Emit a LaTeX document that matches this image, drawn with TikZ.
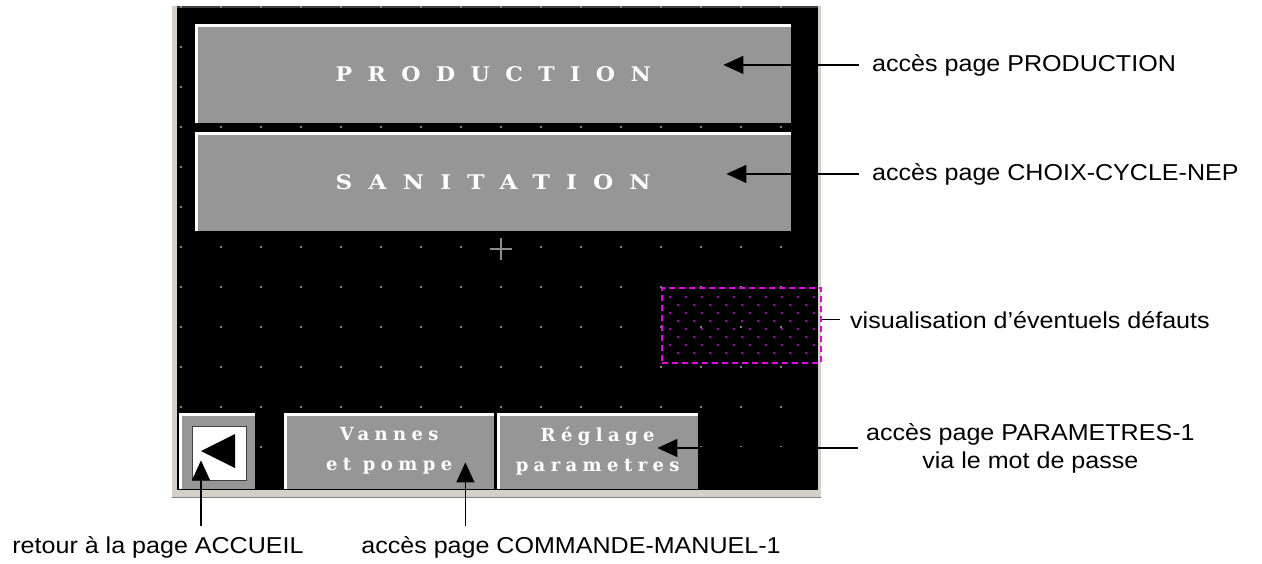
\documentclass[tikz,border=0pt]{standalone}
\usepackage{fontspec}
\usepackage{graphicx}
\setmainfont{Liberation Sans}
\newfontfamily\btnfont[LetterSpace=70]{DejaVu Serif}
\newfontfamily\smbtnfont[LetterSpace=30]{DejaVu Serif}
\usetikzlibrary{arrows.meta}
\definecolor{framegray}{RGB}{212,208,200}
\definecolor{topgray}{RGB}{64,64,64}
\definecolor{botgray}{RGB}{128,128,128}
\definecolor{dotgray}{RGB}{128,128,128}
\definecolor{plusgray}{RGB}{140,140,140}
\definecolor{btngray}{RGB}{150,150,150}
\definecolor{defmag}{RGB}{235,0,235}
\newcommand\labtxt[1]{\scalebox{1.09}[1]{#1}}
\newcommand\bigbtn[1]{\resizebox{315pt}{15pt}{\btnfont\bfseries #1}}
\begin{document}
\begin{tikzpicture}[x=1pt,y=-1pt,
  lbl/.style={font=\fontsize{23}{28}\selectfont, inner sep=0pt},
  arr/.style={-{Triangle[length=20pt,width=18pt]}, line width=1.3pt, black},
  plain/.style={line width=1.3pt, black},
  btn/.style={fill=btngray, inner sep=0pt, anchor=north west, text=white},
  smbtn/.style={btn, align=center, font=\smbtnfont\bfseries\fontsize{18}{30}\selectfont},
  griddot/.style={fill=dotgray}]
\useasboundingbox (0,0) rectangle (1262,563);
\fill[white] (0,0) rectangle (1262,563);
% screen frame
\fill[framegray] (172,6) rectangle (821,498);
\fill[black] (177,6) rectangle (818,490);
\draw[topgray, line width=1.5pt] (177,6.75) -- (818,6.75);
\draw[botgray, line width=1pt] (172,497.5) -- (821,497.5);
% grid dots
\foreach \i in {0,...,15}{
  \foreach \j in {0,...,11}{
    \fill[griddot] (180+40*\i,8+40*\j) rectangle ++(2,-2);
  }
}
% defects zone
\foreach \j in {0,2,4,6}{
  \foreach \i in {0,...,9}{
    \fill[defmag] (670+16*\i,297+8*\j) circle (1.1);
  }
}
\foreach \j in {1,3,5,7}{
  \foreach \i in {0,...,8}{
    \fill[defmag] (678+16*\i,297+8*\j) circle (1.1);
  }
}
\node[draw=defmag, dash pattern=on 6pt off 4pt, line width=2pt, inner sep=0pt, minimum width=159pt, minimum height=75pt, anchor=north west] (def) at (661,287) {};
% plus
\draw[plusgray, line width=2pt] (490,249) -- (512,249) (501,238) -- (501,260);
% buttons
\node[btn, minimum width=596pt, minimum height=99pt] (prod) at (195,24) {\bigbtn{PRODUCTION}};
\node[btn, minimum width=596pt, minimum height=99pt] (sani) at (195,132) {\bigbtn{SANITATION}};
\node[btn, minimum width=76pt, minimum height=76pt] (back) at (179,413) {};
\node[smbtn, minimum width=210pt, minimum height=76pt] (vannes) at (284,413) {Vannes\\et pompe};
\node[smbtn, minimum width=201pt, minimum height=76pt] (regl) at (497,413) {Réglage\\parametres};
\foreach \n in {prod,sani,back,vannes,regl}{
  \draw[white, line width=2.5pt] ([xshift=1.25pt]\n.south west) -- ([xshift=1.25pt,yshift=-1.25pt]\n.north west) -- ([yshift=-1.25pt]\n.north east);
}
\node[fill=white, draw=topgray, line width=0.8pt, inner sep=0pt, minimum size=54pt, anchor=north west] (backsq) at (192,426) {};
\fill[black] (201,451) -- (235,434) -- (235,468) -- cycle;
% labels
\node[lbl, anchor=base west] (lblP) at (872,71) {\labtxt{accès page PRODUCTION}};
\node[lbl, anchor=base west] (lblS) at (872,180) {\labtxt{accès page CHOIX-CYCLE-NEP}};
\node[lbl, anchor=base west] (lblV) at (850,328) {\labtxt{visualisation d’éventuels défauts}};
\node[lbl, align=center, anchor=west] (lblR) at (866,448) {\labtxt{accès page PARAMETRES-1}\\\labtxt{via le mot de passe}};
\node[lbl, anchor=base] (lblA) at (158,553) {\labtxt{retour à la page ACCUEIL}};
\node[lbl, anchor=base] (lblC) at (571,553) {\labtxt{accès page COMMANDE-MANUEL-1}};
% connectors
\draw[arr] ([xshift=-13pt]lblP.west) -- ([xshift=-68pt]prod.east |- lblP.west);
\draw[arr] ([xshift=-13pt]lblS.west) -- ([xshift=-65pt]sani.east |- lblS.west);
\draw[arr] ([xshift=-8pt]lblR.west) -- ([xshift=-41pt]regl.east |- lblR.west);
\draw[plain] ([xshift=-10pt]lblV.west) -- (def.east |- lblV.west);
\coordinate (tipA) at ([xshift=22pt,yshift=29pt]back.south west);
\coordinate (tipC) at ([xshift=-29pt,yshift=27pt]vannes.south east);
\draw[arr] ([yshift=10pt]lblA.north -| tipA) -- (tipA);
\draw[arr] ([yshift=10pt]lblC.north -| tipC) -- (tipC);
\end{tikzpicture}
\end{document}
